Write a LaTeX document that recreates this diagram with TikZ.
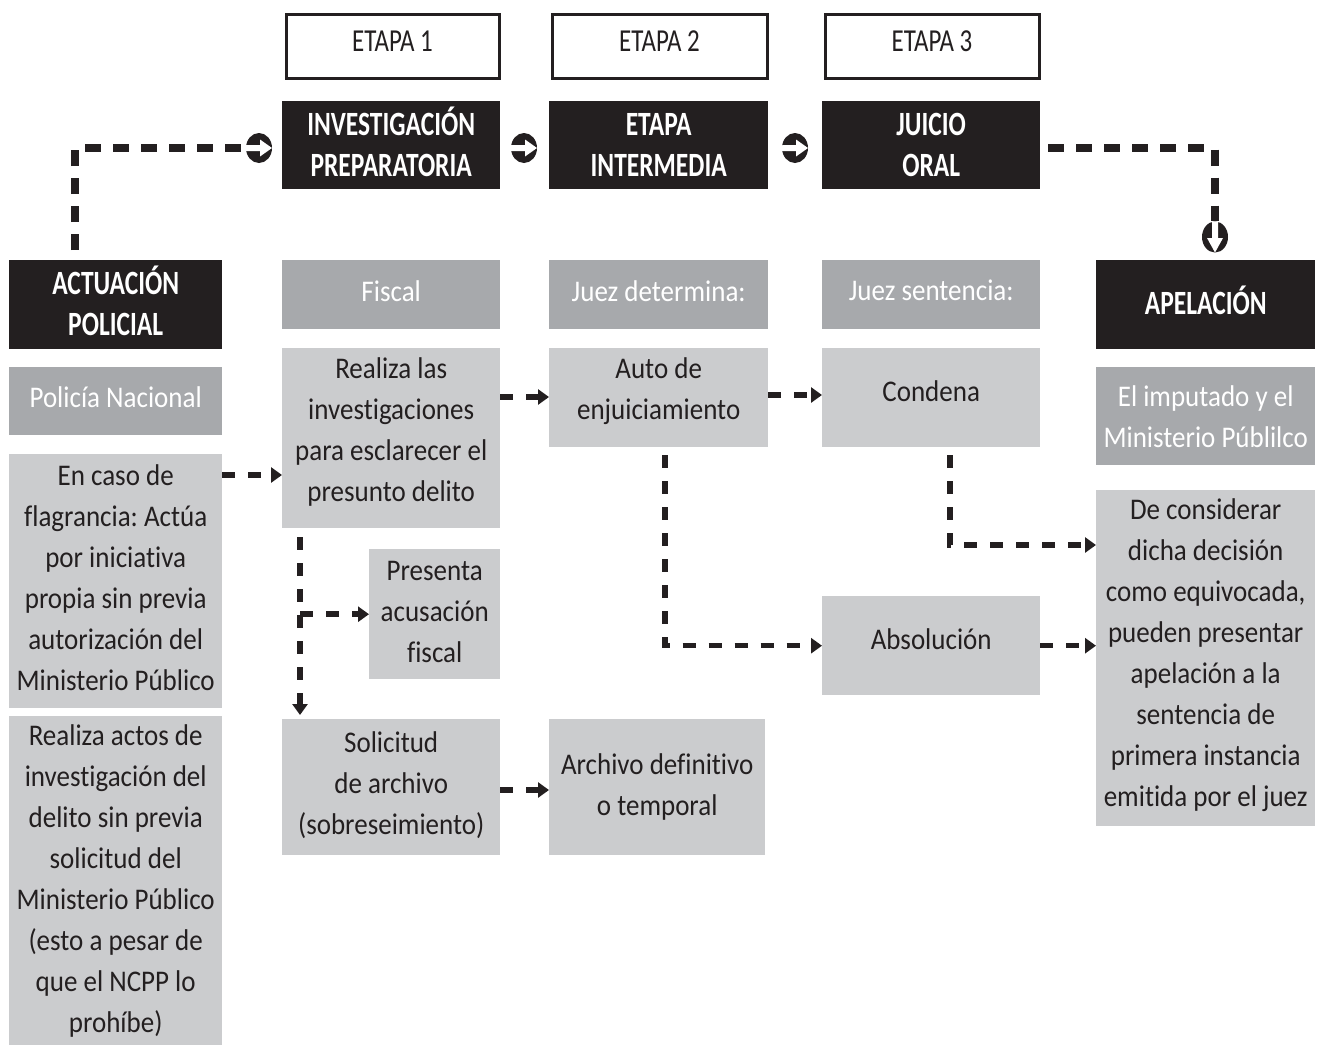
\documentclass[tikz,border=0pt]{standalone}
\usepackage{fontspec}
\setmainfont{Carlito}[Ligatures=NoCommon]
\newfontfamily\hdfont[FakeStretch=0.78,Ligatures=NoCommon]{Carlito}
\newfontfamily\hdbfont[FakeStretch=0.75,Ligatures=NoCommon]{Carlito Bold}
\newfontfamily\bdfont[FakeStretch=0.9,Ligatures=NoCommon]{Carlito}
\usetikzlibrary{arrows.meta,calc,shapes.geometric}
\frenchspacing
\definecolor{blk}{HTML}{231F20}
\definecolor{dgray}{HTML}{A7A9AC}
\definecolor{lgray}{HTML}{CBCCCE}
\tikzset{
  box/.style={rectangle, inner sep=0pt, anchor=north west},
  txt/.style={inner sep=0pt, align=center, anchor=center},
  blackbox/.style={box, fill=blk},
  blackboxtext/.style={txt, text=white, font=\hdbfont\fontsize{34}{41}\selectfont},
  etapabox/.style={box, draw=blk, line width=3pt, fill=white},
  etapaboxtext/.style={txt, text=blk, font=\hdfont\fontsize{32}{38}\selectfont},
  dbox/.style={box, fill=dgray},
  dboxtext/.style={txt, text=white, font=\bdfont\fontsize{30}{41}\selectfont},
  lbox/.style={box, fill=lgray},
  lboxtext/.style={txt, text=blk, font=\bdfont\fontsize{30}{41}\selectfont},
  dline/.style={draw=blk, line width=5.5pt, dash pattern=on 13pt off 13pt},
  topline/.style={draw=blk, line width=8pt, dash pattern=on 16pt off 12pt},
  tip/.style={-{Triangle[length=11pt,width=15pt]}},
  rcirc/.style={ellipse, fill=blk, inner sep=0pt, minimum width=26pt, minimum height=30pt,
    path picture={\fill[white, shift={(path picture bounding box.center)}]
      (-14,-3) -- (1,-3) -- (1,-8.5) -- (13,0) -- (1,8.5) -- (1,3) -- (-14,3) -- cycle;}},
  dcirc/.style={ellipse, fill=blk, inner sep=0pt, minimum width=26pt, minimum height=31pt,
    path picture={\fill[white, shift={(path picture bounding box.center)}]
      (-3,-16) -- (-3,1) -- (-8,1) -- (0,15.5) -- (8,1) -- (3,1) -- (3,-16) -- cycle;}},
}
% #1 style, #2 name, #3 position, #4 width, #5 height, #6 text raise, #7 text
\newcommand\boxnode[7]{%
  \node[#1, minimum width=#4, minimum height=#5] (#2) at #3 {};
  \node[#1text, yshift=#6] (#2-t) at (#2.center) {#7};}
\begin{document}
\begin{tikzpicture}[x=1pt,y=-1pt]
\useasboundingbox[fill=white] (0,0) rectangle (1325,1047);

% stage header boxes
\boxnode{etapabox}{e1}{(284.5,12.5)}{213pt}{64pt}{5pt}{ETAPA 1}
\boxnode{etapabox}{e2}{(550.5,12.5)}{215pt}{64pt}{5pt}{ETAPA 2}
\boxnode{etapabox}{e3}{(823.5,12.5)}{214pt}{64pt}{5pt}{ETAPA 3}

% black title boxes
\boxnode{blackbox}{ip}{(282,101)}{218pt}{88pt}{3pt}{INVESTIGACIÓN\\PREPARATORIA}
\boxnode{blackbox}{ei}{(549,101)}{219pt}{88pt}{0pt}{ETAPA\\INTERMEDIA}
\boxnode{blackbox}{jo}{(822,101)}{218pt}{88pt}{0pt}{JUICIO\\ORAL}
\boxnode{blackbox}{act}{(9,260)}{213pt}{89pt}{4pt}{ACTUACIÓN\\POLICIAL}
\boxnode{blackbox}{ape}{(1096,260)}{219pt}{89pt}{4pt}{APELACIÓN}

% dark grey boxes
\boxnode{dbox}{fis}{(282,260)}{218pt}{69pt}{4pt}{Fiscal}
\boxnode{dbox}{jd}{(549,260)}{219pt}{69pt}{4pt}{Juez determina:}
\boxnode{dbox}{js}{(822,260)}{218pt}{69pt}{4pt}{Juez sentencia:}
\boxnode{dbox}{pn}{(9,367)}{213pt}{68pt}{4pt}{Policía Nacional}
\boxnode{dbox}{imp}{(1096,367)}{219pt}{98pt}{0pt}{El imputado y el\\Ministerio Públilco}

% light grey boxes
\boxnode{lbox}{rl}{(282,348)}{218pt}{180pt}{6pt}{Realiza las\\investigaciones\\para esclarecer el\\presunto delito}
\boxnode{lbox}{auto}{(549,348)}{219pt}{99pt}{7pt}{Auto de\\enjuiciamiento}
\boxnode{lbox}{cond}{(822,348)}{218pt}{99pt}{7pt}{Condena}
\boxnode{lbox}{enc}{(9,454)}{213pt}{254pt}{4pt}{En caso de\\flagrancia: Actúa\\por iniciativa\\propia sin previa\\autorización del\\Ministerio Público}
\boxnode{lbox}{pres}{(369,549)}{131pt}{130pt}{2pt}{Presenta\\acusación\\fiscal}
\boxnode{lbox}{sol}{(282,719)}{218pt}{136pt}{2pt}{Solicitud\\de archivo\\(sobreseimiento)}
\boxnode{lbox}{arch}{(549,719)}{216pt}{136pt}{0pt}{Archivo definitivo\\o temporal}
\boxnode{lbox}{abs}{(822,596)}{218pt}{99pt}{7pt}{Absolución}
\boxnode{lbox}{dc}{(1096,490)}{219pt}{336pt}{3pt}{De considerar\\dicha decisión\\como equivocada,\\pueden presentar\\apelación a la\\sentencia de\\primera instancia\\emitida por el juez}
\boxnode{lbox}{rad}{(9,716)}{213pt}{329pt}{0pt}{Realiza actos de\\investigación del\\delito sin previa\\solicitud del\\Ministerio Público\\(esto a pesar de\\que el NCPP lo\\prohíbe)}

% circled arrows
\node[rcirc] (c1) at (259,148) {};
\node[rcirc] (c2) at (524,148) {};
\node[rcirc] (c3) at (795,148) {};
\node[dcirc] (c4) at (1215,237) {};

% top connectors
\draw[topline] ($(act.north west)+(66,-10)$) |- (c1.west);
\draw[topline] ($(jo.east)+(8,3)$) -| (c4.north);

% lower connectors
\draw[dline,tip] ($(rl.north east)+(0,49)$) -- ($(auto.north west)+(0,49)$);
\draw[dline,tip] ($(auto.north east)+(0,47)$) -- ($(cond.north west)+(0,47)$);
\draw[dline,tip] ($(enc.north east)+(0,21)$) -- ($(rl.north west)+(0,127)$);
\draw[dline,tip] ($(rl.south west)+(18,9)$) -- ($(sol.north west)+(18,-4)$);
\draw[dline,tip] ($(pres.west -| rl.south west)+(18,0)$) -- (pres.west);
\draw[dline,tip] ($(sol.north west)+(218,71)$) -- ($(arch.north west)+(0,71)$);
\draw[dline,tip] ($(auto.south west)+(116,8)$) |- (abs.west);
\draw[dline,tip] ($(cond.south west)+(128,8)$) |- ($(dc.north west)+(0,55)$);
\draw[dline,tip] (abs.east) -- (abs.east -| dc.west);
\end{tikzpicture}
\end{document}
